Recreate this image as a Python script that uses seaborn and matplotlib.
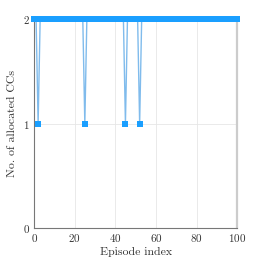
import numpy as np
import pandas as pd
import matplotlib
matplotlib.use("Agg")
import matplotlib.pyplot as plt
import seaborn as sns

# episodes and allocated CCs (2 everywhere except a few dips to 1)
episodes = list(range(0, 101))
dip_episodes = [2, 25, 45, 52]
allocated_ccs = [1 if e in dip_episodes else 2 for e in episodes]

x_ticks = [0, 20, 40, 60, 80, 100]
y_ticks = [0, 1, 2]

sns.set_style("white")
plt.rcParams['font.family'] = ['cmr10', 'DejaVu Serif']
plt.rcParams['axes.formatter.use_mathtext'] = True

df = pd.DataFrame({'episode': episodes, 'ccs': allocated_ccs})

fig = plt.figure(figsize=(2.62, 2.62), dpi=100)
ax = fig.add_axes([0.13, 0.13, 0.775, 0.797])

sns.lineplot(data=df, x='episode', y='ccs', ax=ax, color='#2b8fe0',
             linewidth=1.0, alpha=0.6, marker=None, clip_on=False)
ax.plot(df['episode'], df['ccs'], linestyle='none', marker='s',
        markersize=4.0, color='#1a9fff', markeredgewidth=0, clip_on=False,
        zorder=3)

ax.set_xlim(0, 100)
ax.set_ylim(0, 2)
ax.set_xticks(x_ticks)
ax.set_yticks(y_ticks)
ax.grid(True, color='#e6e6e6', linewidth=0.6)
ax.set_xlabel('Episode index', fontsize=8.5, color='#333333', labelpad=2)
ax.set_ylabel('No. of allocated CCs', fontsize=8.5, color='#333333', labelpad=4)
ax.tick_params(axis='both', labelsize=8, colors='#333333', length=2, width=0.6,
               direction='in', pad=3)

for side in ['left', 'bottom']:
    ax.spines[side].set_color('#777777')
    ax.spines[side].set_linewidth(0.8)
ax.spines['top'].set_visible(False)
ax.spines['right'].set_color('#cccccc')
ax.spines['right'].set_linewidth(1.6)

fig.savefig('out.png', dpi=100)
